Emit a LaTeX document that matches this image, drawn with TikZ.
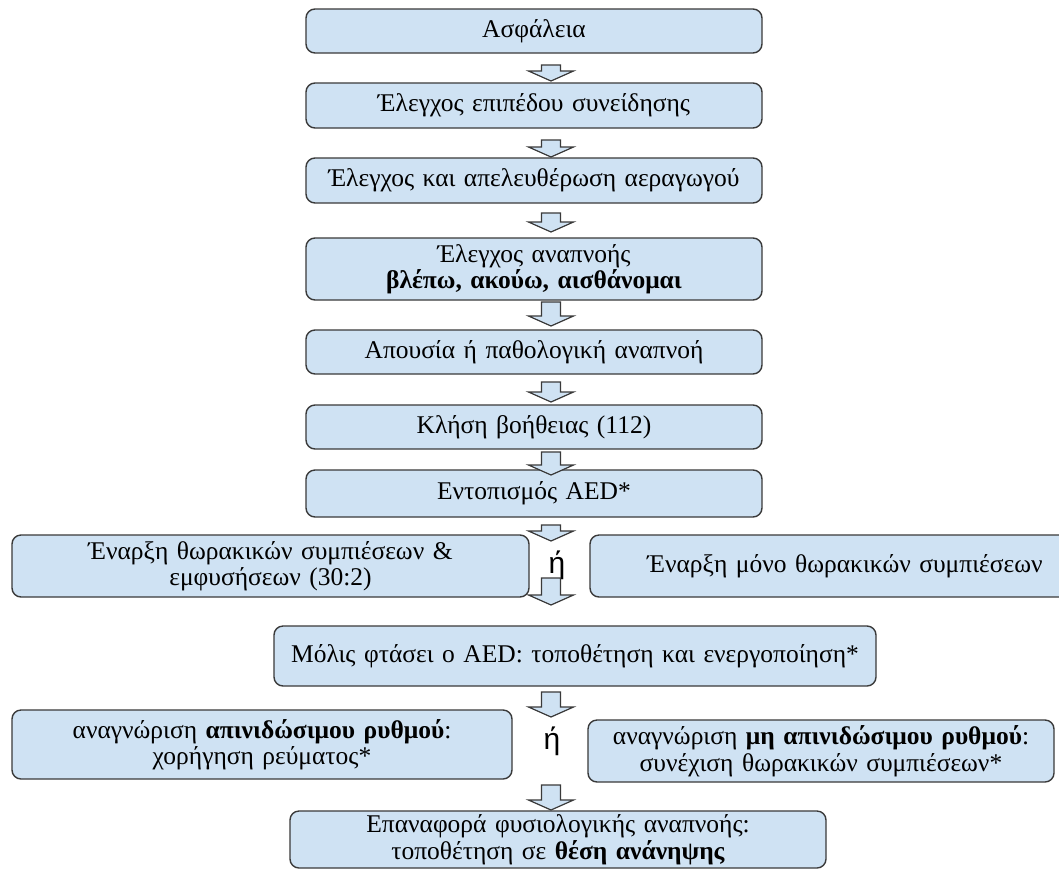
\documentclass[tikz,border=0pt]{standalone}
\usepackage{fontspec}
\setmainfont{Liberation Serif}
\newfontfamily\orfont{Liberation Sans}
\definecolor{boxblue}{HTML}{CFE2F3}
\definecolor{edgegray}{HTML}{3A3A3A}
\newcommand\flowarrow[3]{% x, ytop, ytip
  \draw[arrowsty] (#1-9.5,#2) -- (#1+9.5,#2) -- (#1+9.5,#3-10) -- (#1+22.5,#3-10)
    -- (#1,#3) -- (#1-22.5,#3-10) -- (#1-9.5,#3-10) -- cycle;}
\begin{document}
\begin{tikzpicture}[x=1pt,y=-1pt,
  box/.style={draw=edgegray, fill=boxblue, line width=1.4pt, rounded corners=9pt,
    inner sep=0pt, align=center, font=\fontsize{25.5}{26.5}\selectfont},
  sz/.style n args={2}{minimum width=#1, text width=#1, minimum height=#2},
  arrowsty/.style={draw=edgegray, fill=boxblue, line width=1.2pt, line join=miter},
  ortext/.style={font=\orfont\fontsize{30}{32}\selectfont, inner sep=0pt}]
\useasboundingbox[fill=white] (0,0) rectangle (1059,873);

\node[box, sz={456}{44}] (b1) at (534,31) {Ασφάλεια};
\node[box, sz={456}{45}] (b2) at (534,105.5) {Έλεγχος επιπέδου συνείδησης};
\node[box, sz={456}{45}] (b3) at (534,180.5) {Έλεγχος και απελευθέρωση αεραγωγού};
\node[box, sz={456}{62}] (b4) at (534,269) {Έλεγχος αναπνοής\\\textbf{βλέπω, ακούω, αισθάνομαι}};
\node[box, sz={456}{44}] (b5) at (534,352) {Απουσία ή παθολογική αναπνοή};
\node[box, sz={456}{44}] (b6) at (534,427) {Κλήση βοήθειας (112)};
\node[box, sz={456}{47}] (b7) at (534,493.5) {Εντοπισμός AED*};
\node[box, sz={517}{62}] (l8) at (270.5,566) {Έναρξη θωρακικών συμπιέσεων \&\\εμφυσήσεων (30:2)};
\node[box, sz={510}{62}] (r8) at (845,566) {Έναρξη μόνο θωρακικών συμπιέσεων};
\node[box, sz={602}{60}] (b9) at (575,656) {Μόλις φτάσει ο AED: τοποθέτηση και ενεργοποίηση*};
\node[box, sz={500}{69}] (l10) at (262,744.5) {αναγνώριση \textbf{απινιδώσιμου ρυθμού}:\\χορήγηση ρεύματος*};
\node[box, sz={466}{62}] (r10) at (821,751) {αναγνώριση \textbf{μη απινιδώσιμου ρυθμού}:\\συνέχιση θωρακικών συμπιέσεων*};
\node[box, sz={536}{57}] (b11) at (558,839.5) {Επαναφορά φυσιολογικής αναπνοής:\\τοποθέτηση σε \textbf{θέση ανάνηψης}};

\node[ortext] (or1) at (557,565) {ή};
\node[ortext] (or2) at (552,741) {ή};

\flowarrow{551}{65}{81}
\flowarrow{551}{140}{157}
\flowarrow{551}{213}{232}
\flowarrow{551}{302}{326}
\flowarrow{551}{382}{402}
\flowarrow{551}{452}{475}
\flowarrow{551}{525}{541}
\flowarrow{551}{578}{605}
\flowarrow{551}{692}{717}
\flowarrow{551}{785}{810}
\end{tikzpicture}
\end{document}
